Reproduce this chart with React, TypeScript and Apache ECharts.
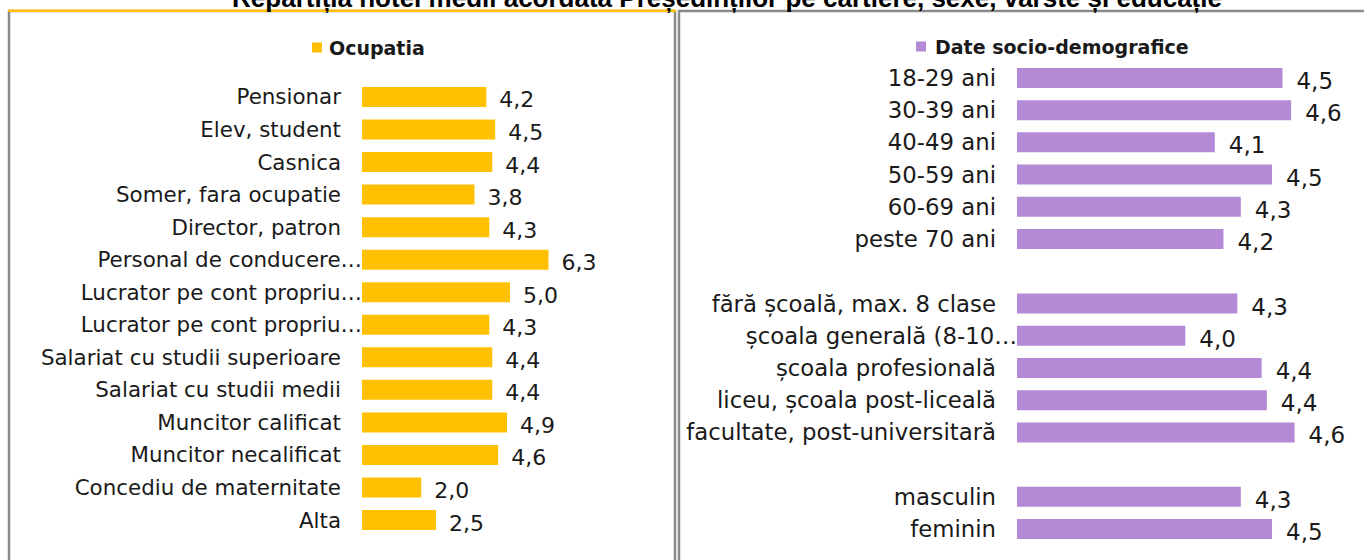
import React, { useEffect, useRef } from "react";
import * as echarts from "echarts";

const titleText =
  "Repartiția notei medii acordată Președinților pe cartiere, sexe, vârste și educație";

const occName = "Ocupatia";
const occCategories = [
  "Pensionar",
  "Elev, student",
  "Casnica",
  "Somer, fara ocupatie",
  "Director, patron",
  "Personal de conducere…",
  "Lucrator pe cont propriu…",
  "Lucrator pe cont propriu…",
  "Salariat cu studii superioare",
  "Salariat cu studii medii",
  "Muncitor calificat",
  "Muncitor necalificat",
  "Concediu de maternitate",
  "Alta",
];
const occValues = [4.2, 4.5, 4.4, 3.8, 4.3, 6.3, 5.0, 4.3, 4.4, 4.4, 4.9, 4.6, 2.0, 2.5];

const demoName = "Date socio-demografice";
const demoCategories = [
  "18-29 ani",
  "30-39 ani",
  "40-49 ani",
  "50-59 ani",
  "60-69 ani",
  "peste 70 ani",
  " ",
  "fără școală, max. 8 clase",
  "școala generală (8-10…",
  "școala profesională",
  "liceu, școala post-liceală",
  "facultate, post-universitară",
  "  ",
  "masculin",
  "feminin",
];
const demoValues: (number | null)[] = [
  4.53, 4.58, 4.14, 4.47, 4.29, 4.19, null, 4.27, 3.97, 4.41, 4.44, 4.6, null, 4.29, 4.47,
];

const YELLOW = "#FFC000";
const PURPLE = "#B48AD7";
const TEXT = "#1a1a1a";
const FONT = "DejaVu Sans";
const LEFT_SIZE = 21.4;
const RIGHT_SIZE = 22.8;

const fmt = (p: any) =>
  p.value == null ? "" : Number(p.value).toFixed(1).replace(".", ",");

const catData = (arr: string[], size: number) =>
  arr.map((c) =>
    c.endsWith("…")
      ? { value: c, textStyle: { padding: [0, -21, 0, 0], fontSize: size } }
      : c
  );

export default function App() {
  const ref = useRef<HTMLDivElement>(null);
  useEffect(() => {
    if (!ref.current) return;
    const chart = echarts.init(ref.current, null, { renderer: "svg" });
    chart.setOption({
      animation: false,
      backgroundColor: "#ffffff",
      graphic: [
        {
          type: "rect",
          z: 0,
          shape: { x: 9, y: 11, width: 666, height: 600 },
          style: { fill: "none", stroke: "#8a8a8a", lineWidth: 2.5 },
        },
        {
          type: "rect",
          z: 0,
          shape: { x: 679, y: 11, width: 720, height: 600 },
          style: { fill: "none", stroke: "#8a8a8a", lineWidth: 2.5 },
        },
        {
          type: "rect",
          z: 1,
          shape: { x: 8, y: 9.5, width: 668, height: 2.5 },
          style: { fill: YELLOW },
        },
        {
          type: "text",
          z: 1,
          x: 727,
          y: 11,
          style: {
            text: titleText,
            fill: "#000",
            fontSize: 26,
            fontWeight: "bold",
            fontFamily: "Liberation Sans",
            align: "center",
            verticalAlign: "bottom",
          },
        },
      ],
      legend: [
        {
          data: [occName],
          left: 312,
          top: 38,
          padding: 0,
          icon: "rect",
          itemWidth: 10,
          itemHeight: 10,
          selectedMode: false,
          textStyle: { fontSize: 19, fontWeight: "bold", color: TEXT, fontFamily: FONT, padding: [0, 0, 0, 2] },
        },
        {
          data: [demoName],
          left: 916,
          top: 37,
          padding: 0,
          icon: "rect",
          itemWidth: 10,
          itemHeight: 10,
          selectedMode: false,
          textStyle: { fontSize: 19, fontWeight: "bold", color: TEXT, fontFamily: FONT, padding: [0, 0, 0, 4] },
        },
      ],
      grid: [
        { left: 362, top: 80.7, width: 207.2, height: 455.6, containLabel: false },
        { left: 1017, top: 61.8, width: 354, height: 483.4, containLabel: false },
      ],
      xAxis: [
        { type: "value", gridIndex: 0, min: 0, max: 7, show: false },
        { type: "value", gridIndex: 1, min: 3, max: 5, show: false },
      ],
      yAxis: [
        {
          type: "category",
          gridIndex: 0,
          inverse: true,
          data: catData(occCategories, LEFT_SIZE),
          axisLine: { show: false },
          axisTick: { show: false },
          splitLine: { show: false },
          axisLabel: { interval: 0, fontSize: LEFT_SIZE, fontFamily: FONT, color: TEXT, margin: 21 },
        },
        {
          type: "category",
          gridIndex: 1,
          inverse: true,
          data: catData(demoCategories, RIGHT_SIZE),
          axisLine: { show: false },
          axisTick: { show: false },
          splitLine: { show: false },
          axisLabel: { interval: 0, fontSize: RIGHT_SIZE, fontFamily: FONT, color: TEXT, margin: 21 },
        },
      ],
      series: [
        {
          name: occName,
          type: "bar",
          xAxisIndex: 0,
          yAxisIndex: 0,
          data: occValues,
          barWidth: 20,
          itemStyle: { color: YELLOW },
          label: {
            show: true,
            position: "right",
            distance: 13,
            offset: [0, 3],
            formatter: fmt,
            fontSize: 22,
            fontFamily: FONT,
            color: TEXT,
          },
        },
        {
          name: demoName,
          type: "bar",
          xAxisIndex: 1,
          yAxisIndex: 1,
          data: demoValues,
          barWidth: 20,
          itemStyle: { color: PURPLE },
          label: {
            show: true,
            position: "right",
            distance: 14,
            offset: [0, 3],
            formatter: fmt,
            fontSize: 23,
            fontFamily: FONT,
            color: TEXT,
          },
        },
      ],
    });
    return () => chart.dispose();
  }, []);
  return (
    <div
      ref={ref}
      style={{ position: "absolute", left: 0, top: 0, width: 1364, height: 560 }}
    />
  );
}
